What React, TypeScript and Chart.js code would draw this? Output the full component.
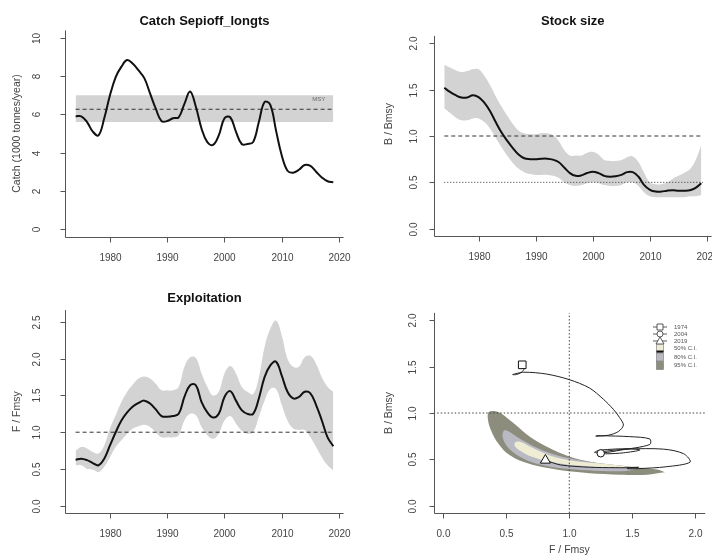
import React, { useEffect, useRef } from "react";
import { Chart, registerables } from "chart.js";
Chart.register(...registerables);

const FONT = '"Liberation Sans", Arial, Helvetica, sans-serif';

// ---------- data ----------
const years = [1974, 1975, 1976, 1977, 1978, 1979, 1980, 1981, 1982, 1983,
  1984, 1985, 1986, 1987, 1988, 1989, 1990, 1991, 1992, 1993,
  1994, 1995, 1996, 1997, 1998, 1999, 2000, 2001, 2002, 2003,
  2004, 2005, 2006, 2007, 2008, 2009, 2010, 2011, 2012, 2013,
  2014, 2015, 2016, 2017, 2018, 2019];

const catchValues = [5.9, 5.9, 5.6, 5.1, 4.9, 5.8, 7.0, 7.95, 8.5, 8.85,
  8.65, 8.3, 7.9, 7.1, 6.3, 5.65, 5.65, 5.8, 5.85, 6.55,
  7.2, 6.4, 5.25, 4.55, 4.4, 4.9, 5.8, 5.85, 5.1, 4.45,
  4.45, 4.55, 5.6, 6.65, 6.5, 5.15, 3.85, 3.05, 2.95, 3.1,
  3.35, 3.3, 3.0, 2.7, 2.5, 2.45];
const msyValue = 6.27;
const msyLow = 5.6;
const msyHigh = 7.0;

const bValues = [1.52, 1.476, 1.44, 1.415, 1.415, 1.44, 1.42, 1.36, 1.27, 1.15,
  1.04, 0.95, 0.87, 0.8, 0.76, 0.75, 0.75, 0.755, 0.755, 0.745,
  0.72, 0.66, 0.6, 0.57, 0.575, 0.6, 0.615, 0.6, 0.57, 0.56,
  0.565, 0.58, 0.61, 0.61, 0.56, 0.47, 0.42, 0.4, 0.4, 0.41,
  0.415, 0.41, 0.41, 0.415, 0.44, 0.49];
const bUpper = [1.77, 1.74, 1.71, 1.69, 1.7, 1.72, 1.72, 1.65, 1.55, 1.43,
  1.32, 1.22, 1.13, 1.06, 1.03, 1.02, 1.02, 1.03, 1.03, 1.01,
  0.95, 0.85, 0.79, 0.79, 0.79, 0.82, 0.83, 0.8, 0.74, 0.73,
  0.73, 0.74, 0.77, 0.78, 0.72, 0.6, 0.5, 0.48, 0.48, 0.5,
  0.54, 0.57, 0.6, 0.64, 0.74, 0.9];
const bLower = [1.3, 1.25, 1.2, 1.17, 1.17, 1.19, 1.19, 1.15, 1.08, 0.98,
  0.88, 0.79, 0.71, 0.65, 0.61, 0.59, 0.58, 0.58, 0.58, 0.57,
  0.55, 0.5, 0.47, 0.46, 0.47, 0.49, 0.5, 0.49, 0.47, 0.46,
  0.46, 0.47, 0.5, 0.5, 0.46, 0.39, 0.35, 0.34, 0.34, 0.34,
  0.34, 0.34, 0.34, 0.35, 0.35, 0.36];

const fValues = [0.626, 0.64, 0.62, 0.58, 0.55, 0.64, 0.82, 1.0, 1.16, 1.27,
  1.35, 1.4, 1.43, 1.39, 1.31, 1.22, 1.21, 1.22, 1.25, 1.48,
  1.64, 1.64, 1.41, 1.27, 1.2, 1.25, 1.48, 1.56, 1.43, 1.3,
  1.25, 1.25, 1.46, 1.75, 1.91, 1.96, 1.77, 1.55, 1.46, 1.48,
  1.55, 1.53, 1.37, 1.16, 0.93, 0.81];
const fUpper = [0.75, 0.8, 0.78, 0.73, 0.71, 0.82, 1.05, 1.23, 1.41, 1.55,
  1.65, 1.73, 1.76, 1.73, 1.66, 1.57, 1.57, 1.57, 1.62, 1.89,
  2.02, 2.01, 1.8, 1.62, 1.5, 1.55, 1.8, 1.9, 1.8, 1.62,
  1.55, 1.52, 1.75, 2.16, 2.41, 2.52, 2.32, 2.0, 1.89, 1.89,
  2.02, 2.04, 1.93, 1.75, 1.62, 1.55];
const fLower = [0.55, 0.55, 0.5, 0.49, 0.46, 0.53, 0.66, 0.8, 0.89, 0.98,
  1.05, 1.08, 1.1, 1.07, 1.0, 0.93, 0.93, 0.93, 0.96, 1.16,
  1.25, 1.23, 1.07, 0.96, 0.91, 0.98, 1.16, 1.22, 1.12, 1.02,
  0.98, 1.0, 1.21, 1.43, 1.59, 1.59, 1.37, 1.16, 1.05, 1.03,
  1.03, 0.93, 0.8, 0.66, 0.55, 0.48];

// Kobe confidence regions (F/Fmsy, B/Bmsy outlines)
const ci95F = [1.76, 1.70, 1.56, 1.38, 1.18, 1.0, 0.83, 0.69, 0.57, 0.46, 0.41, 0.36, 0.352, 0.37, 0.42, 0.5, 0.6, 0.74, 0.92, 1.16, 1.4, 1.62, 1.76];
const ci95B = [0.36, 0.39, 0.41, 0.435, 0.47, 0.53, 0.63, 0.74, 0.875, 0.995, 1.02, 1.01, 0.95, 0.84, 0.7, 0.57, 0.49, 0.43, 0.385, 0.35, 0.335, 0.335, 0.36];
const ci80F = [1.56, 1.45, 1.27, 1.08, 0.9, 0.75, 0.61, 0.52, 0.48, 0.47, 0.5, 0.58, 0.7, 0.85, 1.05, 1.25, 1.45, 1.56];
const ci80B = [0.4, 0.42, 0.45, 0.49, 0.545, 0.62, 0.72, 0.8, 0.81, 0.74, 0.65, 0.55, 0.47, 0.42, 0.39, 0.375, 0.375, 0.4];
const ci50F = [1.46, 1.42, 1.25, 1.05, 0.85, 0.7, 0.61, 0.57, 0.565, 0.6, 0.68, 0.8, 0.95, 1.15, 1.35, 1.46];
const ci50B = [0.42, 0.43, 0.455, 0.48, 0.54, 0.63, 0.69, 0.685, 0.65, 0.6, 0.54, 0.49, 0.45, 0.425, 0.412, 0.42];

const markerYears = [1974, 2004, 2019];
const legendLabels = ["1974", "2004", "2019", "50% C.I.", "80% C.I.", "95% C.I."];

// tick labels
const yearTicks = [1980, 1990, 2000, 2010, 2020];
const catchTicks = [0, 2, 4, 6, 8, 10];
const bTicks = [0, 0.5, 1, 1.5, 2];
const fTicks = [0, 0.5, 1, 1.5, 2, 2.5];
const kobeXTicks = [0, 0.5, 1, 1.5, 2];

const C95 = "#8d8d7e";
const C80 = "#b9b9c4";
const C50 = "#eeecd3";
const BAND = "#d3d3d3";

// ---------- helpers ----------
const pts = (xs: number[], ys: number[]) => xs.map((x, i) => ({ x, y: ys[i] }));
const fmtInt = (v: number) => String(v);
const fmt1 = (v: number) => v.toFixed(1);

type Spec = {
  title?: string;
  yTitle: string;
  yTitleX: number;
  yTitleY: number;
  xTitle?: string;
  xTitleY?: number;
  xTicks: number[];
  yTicks: number[];
  xFmt: (v: number) => string;
  yFmt: (v: number) => string;
  yLabelGap: number;
  extra?: (ctx: CanvasRenderingContext2D, chart: any) => void;
};

function rAxes(spec: Spec) {
  return {
    id: "rAxes",
    afterDraw(chart: any) {
      const ctx: CanvasRenderingContext2D = chart.ctx;
      const a = chart.chartArea;
      const xs = chart.scales.x;
      const ys = chart.scales.y;
      const L = Math.round(a.left) + 0.5;
      const B = Math.round(a.bottom) + 0.5;
      ctx.save();
      ctx.setLineDash([]);
      ctx.strokeStyle = "#555";
      ctx.lineWidth = 1;
      ctx.beginPath();
      ctx.moveTo(L, a.top);
      ctx.lineTo(L, B);
      ctx.lineTo(a.right, B);
      ctx.stroke();
      ctx.fillStyle = "#444";
      ctx.font = `10px ${FONT}`;
      ctx.textAlign = "center";
      ctx.textBaseline = "middle";
      for (const v of spec.yTicks) {
        const py = Math.round(ys.getPixelForValue(v)) + 0.5;
        ctx.beginPath();
        ctx.moveTo(L, py);
        ctx.lineTo(L - 5, py);
        ctx.stroke();
        ctx.save();
        ctx.translate(a.left - spec.yLabelGap, py);
        ctx.rotate(-Math.PI / 2);
        ctx.fillText(spec.yFmt(v), 0, 0);
        ctx.restore();
      }
      for (const v of spec.xTicks) {
        const px = Math.round(xs.getPixelForValue(v)) + 0.5;
        ctx.beginPath();
        ctx.moveTo(px, B);
        ctx.lineTo(px, B + 5);
        ctx.stroke();
        ctx.fillText(spec.xFmt(v), px, B + 21);
      }
      const cx = (a.left + a.right) / 2;
      ctx.font = `10.5px ${FONT}`;
      ctx.save();
      ctx.translate(spec.yTitleX, spec.yTitleY);
      ctx.rotate(-Math.PI / 2);
      ctx.fillText(spec.yTitle, 0, 0);
      ctx.restore();
      if (spec.xTitle) ctx.fillText(spec.xTitle, cx, spec.xTitleY || 0);
      if (spec.title) {
        ctx.fillStyle = "#111";
        ctx.font = `bold 13px ${FONT}`;
        ctx.fillText(spec.title, cx, 21);
      }
      if (spec.extra) spec.extra(ctx, chart);
      ctx.restore();
    },
  };
}

function baseOptions(xmin: number, xmax: number, ymin: number, ymax: number, pad: any) {
  return {
    responsive: false,
    animation: false as const,
    events: [] as any[],
    layout: { padding: pad },
    plugins: { legend: { display: false }, tooltip: { enabled: false }, title: { display: false } },
    scales: {
      x: { type: "linear" as const, display: false, min: xmin, max: xmax },
      y: { type: "linear" as const, display: false, min: ymin, max: ymax },
    },
  };
}

const mainLine = (data: any[]) => ({
  data,
  borderColor: "#111",
  borderWidth: 2,
  pointRadius: 0,
  tension: 0.4,
  fill: false,
  order: 1,
});

const refLine = (data: any[], dash: number[], color = "#333") => ({
  data,
  borderColor: color,
  borderWidth: 1,
  borderDash: dash,
  pointRadius: 0,
  tension: 0,
  fill: false,
  order: 2,
});

// ---------- chart configs ----------
function catchConfig(): any {
  const first = years[0];
  const last = years[years.length - 1];
  return {
    type: "line",
    data: {
      datasets: [
        { data: [{ x: first, y: msyHigh }, { x: last, y: msyHigh }], borderWidth: 0, borderColor: "transparent", backgroundColor: BAND, pointRadius: 0, fill: "+1", order: 5 },
        { data: [{ x: first, y: msyLow }, { x: last, y: msyLow }], borderWidth: 0, borderColor: "transparent", pointRadius: 0, fill: false, order: 5 },
        refLine([{ x: first, y: msyValue }, { x: last, y: msyValue }], [4, 3]),
        mainLine(pts(years, catchValues)),
      ],
    },
    options: baseOptions(1972.2, 2020.8, -0.4, 10.4, { left: 65.3, right: 12.4, top: 30.4, bottom: 40.4 }),
    plugins: [
      rAxes({
        title: "Catch Sepioff_longts",
        yTitle: "Catch (1000 tonnes/year)",
        yTitleX: 17,
        yTitleY: 133.5,
        xTicks: yearTicks,
        yTicks: catchTicks,
        xFmt: fmtInt,
        yFmt: fmtInt,
        yLabelGap: 28,
        extra: (ctx, chart) => {
          const xs = chart.scales.x;
          const ys = chart.scales.y;
          ctx.font = `6px ${FONT}`;
          ctx.fillStyle = "#666";
          ctx.textAlign = "right";
          ctx.fillText("MSY", xs.getPixelForValue(last) - 8, ys.getPixelForValue(msyHigh) + 4);
        },
      }),
    ],
  };
}

function stockConfig(): any {
  const first = years[0];
  const last = years[years.length - 1];
  return {
    type: "line",
    data: {
      datasets: [
        { data: pts(years, bUpper), borderWidth: 0, borderColor: "transparent", backgroundColor: BAND, pointRadius: 0, tension: 0.4, fill: "+1", order: 5 },
        { data: pts(years, bLower), borderWidth: 0, borderColor: "transparent", pointRadius: 0, tension: 0.4, fill: false, order: 5 },
        refLine([{ x: first, y: 1 }, { x: last + 0.3, y: 1 }], [4, 3]),
        refLine([{ x: first, y: 0.5 }, { x: last + 0.3, y: 0.5 }], [1, 2]),
        mainLine(pts(years, bValues)),
      ],
    },
    options: baseOptions(1972.2, 2020.8, -0.08, 2.08, { left: 78, right: 0.4, top: 35.9, bottom: 40.9 }),
    plugins: [
      rAxes({
        title: "Stock size",
        yTitle: "B / Bmsy",
        yTitleX: 33,
        yTitleY: 124,
        xTicks: yearTicks,
        yTicks: bTicks,
        xFmt: fmtInt,
        yFmt: fmt1,
        yLabelGap: 20,
      }),
    ],
  };
}

function exploitConfig(): any {
  const first = years[0];
  const last = years[years.length - 1];
  return {
    type: "line",
    data: {
      datasets: [
        { data: pts(years, fUpper), borderWidth: 0, borderColor: "transparent", backgroundColor: BAND, pointRadius: 0, tension: 0.4, fill: "+1", order: 5 },
        { data: pts(years, fLower), borderWidth: 0, borderColor: "transparent", pointRadius: 0, tension: 0.4, fill: false, order: 5 },
        refLine([{ x: first, y: 1 }, { x: last, y: 1 }], [4, 3]),
        mainLine(pts(years, fValues)),
      ],
    },
    options: baseOptions(1972.2, 2020.8, -0.1025, 2.6625, { left: 65.3, right: 12.4, top: 33.1, bottom: 41.8 }),
    plugins: [
      rAxes({
        title: "Exploitation",
        yTitle: "F / Fmsy",
        yTitleX: 17,
        yTitleY: 134.7,
        xTicks: yearTicks,
        yTicks: fTicks,
        xFmt: fmtInt,
        yFmt: fmt1,
        yLabelGap: 28,
      }),
    ],
  };
}

function kobeConfig(): any {
  const xmin = -0.0775;
  const xmax = 2.08;
  const ymin = -0.08;
  const ymax = 2.08;
  const region = (fx: number[], by: number[], color: string, order: number) => ({
    data: pts(fx, by),
    borderWidth: 0,
    borderColor: "transparent",
    backgroundColor: color,
    pointRadius: 0,
    tension: 0.3,
    fill: "shape",
    order,
  });
  const marker = (year: number, style: string, r: number) => {
    const i = years.indexOf(year);
    return {
      data: [{ x: fValues[i], y: bValues[i] }],
      showLine: false,
      pointStyle: style,
      pointRadius: r,
      pointBackgroundColor: "#fff",
      pointBorderColor: "#111",
      pointBorderWidth: 1,
      order: 0,
    };
  };
  return {
    type: "line",
    data: {
      datasets: [
        region(ci95F, ci95B, C95, 9),
        region(ci80F, ci80B, C80, 8),
        region(ci50F, ci50B, C50, 7),
        refLine([{ x: 1, y: ymin }, { x: 1, y: ymax }], [1.5, 2], "#444"),
        refLine([{ x: xmin, y: 1 }, { x: xmax, y: 1 }], [1.5, 2], "#444"),
        { data: pts(fValues, bValues), borderColor: "#222", borderWidth: 1, pointRadius: 0, tension: 0.3, fill: false, order: 1 },
        marker(markerYears[0], "rect", 5.4),
        marker(markerYears[1], "circle", 3.7),
        marker(markerYears[2], "triangle", 5.8),
      ],
    },
    options: baseOptions(xmin, xmax, ymin, ymax, { left: 77.7, right: 0, top: 35.9, bottom: 41.9 }),
    plugins: [
      rAxes({
        yTitle: "B / Bmsy",
        yTitleX: 33,
        yTitleY: 136,
        xTitle: "F / Fmsy",
        xTitleY: 273,
        xTicks: kobeXTicks,
        yTicks: bTicks,
        xFmt: fmt1,
        yFmt: fmt1,
        yLabelGap: 20,
        extra: (ctx) => {
          const rows = [50, 57, 64, 71.5, 80, 88.5];
          const sx = 304;
          ctx.font = `6px ${FONT}`;
          ctx.textAlign = "left";
          ctx.textBaseline = "middle";
          ctx.strokeStyle = "#333";
          ctx.lineWidth = 0.8;
          for (let k = 0; k < 3; k++) {
            const y = rows[k];
            ctx.beginPath();
            ctx.moveTo(sx - 7, y);
            ctx.lineTo(sx + 7, y);
            ctx.stroke();
            ctx.fillStyle = "#fff";
            ctx.beginPath();
            if (k === 0) ctx.rect(sx - 3, y - 3, 6, 6);
            else if (k === 1) ctx.arc(sx, y, 3, 0, Math.PI * 2);
            else {
              ctx.moveTo(sx, y - 4);
              ctx.lineTo(sx + 4, y + 3);
              ctx.lineTo(sx - 4, y + 3);
              ctx.closePath();
            }
            ctx.fill();
            ctx.stroke();
          }
          const boxColors = [C50, C80, C95];
          for (let k = 0; k < 3; k++) {
            const y = rows[3 + k];
            ctx.fillStyle = boxColors[k];
            ctx.fillRect(sx - 3.5, y - 4, 7, 8);
            ctx.strokeStyle = "#777";
            ctx.lineWidth = 0.6;
            ctx.strokeRect(sx - 3.5, y - 4, 7, 8);
          }
          ctx.strokeStyle = "#111";
          ctx.lineWidth = 2;
          ctx.beginPath();
          ctx.moveTo(sx - 3.5, rows[3] + 3);
          ctx.lineTo(sx + 3.5, rows[3] + 3);
          ctx.stroke();
          ctx.fillStyle = "#555";
          legendLabels.forEach((t, k) => ctx.fillText(t, 318, rows[k]));
        },
      }),
    ],
  };
}

function Panel(props: { left: number; top: number; width: number; height: number; make: () => any }) {
  const ref = useRef<HTMLCanvasElement>(null);
  useEffect(() => {
    const chart = new Chart(ref.current as HTMLCanvasElement, props.make());
    return () => chart.destroy();
  }, []);
  return (
    <canvas
      ref={ref}
      width={props.width}
      height={props.height}
      style={{ position: "absolute", left: props.left, top: props.top, width: props.width, height: props.height }}
    />
  );
}

export default function App() {
  return (
    <div style={{ position: "absolute", left: 0, top: 0, width: 712, height: 555, background: "#fff", overflow: "hidden" }}>
      <Panel left={0} top={0} width={356} height={277} make={catchConfig} />
      <Panel left={356} top={0} width={356} height={277} make={stockConfig} />
      <Panel left={0} top={277} width={356} height={278} make={exploitConfig} />
      <Panel left={356} top={277} width={356} height={278} make={kobeConfig} />
    </div>
  );
}
